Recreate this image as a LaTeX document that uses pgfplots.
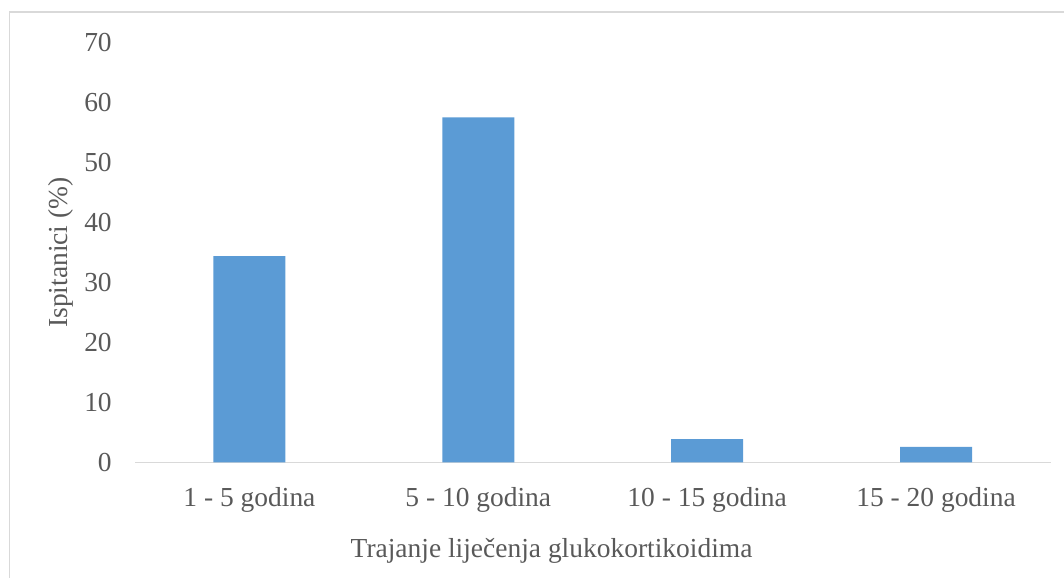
\documentclass[border=0pt]{standalone}
\usepackage{fontspec}
\setmainfont{Liberation Serif}
\usepackage{pgfplots}
\pgfplotsset{compat=1.18}
\definecolor{barblue}{HTML}{5B9BD5}
\definecolor{txtgray}{HTML}{595959}
\definecolor{linegray}{HTML}{D9D9D9}
\begin{document}
\begin{tikzpicture}
\useasboundingbox (0,0) rectangle (1064*0.75pt,578*0.75pt);
\clip (0,0) rectangle (1064*0.75pt,578*0.75pt);
\draw[linegray, line width=1.1pt] (9.5*0.75pt,-20pt) -- (9.5*0.75pt,566*0.75pt) -- (1100*0.75pt,566*0.75pt);
\begin{axis}[
  at={(135*0.75pt,115.5*0.75pt)}, anchor=south west,
  scale only axis,
  width=915.5*0.75pt, height=420*0.75pt,
  xmin=-0.5, xmax=3.5, ymin=0, ymax=70,
  ytick={0,10,...,70},
  xtick={0,1,2,3},
  xticklabels={1 - 5 godina, 5 - 10 godina, 10 - 15 godina, 15 - 20 godina},
  axis x line*=bottom, axis y line*=left,
  y axis line style={draw=none},
  x axis line style={draw=linegray, line width=1.1pt, -},
  major tick length=0pt,
  /pgf/number format/assume math mode=true,
  tick label style={font=\fontsize{20.6}{24}\selectfont, text=txtgray, inner sep=0pt},
  yticklabel style={anchor=east, xshift=-17.25pt},
  xticklabel style={anchor=north, yshift=-18.5pt},
  xlabel={Trajanje liječenja glukokortikoidima},
  ylabel={Ispitanici (\%)},
  label style={font=\fontsize{20.6}{24}\selectfont, text=txtgray, inner sep=0pt},
  xlabel style={at={(axis description cs:0.455,0)}, anchor=base, yshift=-70.9pt},
  ylabel style={at={(axis description cs:-0.0732,0.5)}, anchor=base},
  clip=false,
]
\addplot[ybar, bar width=54pt, fill=barblue, draw=none] coordinates {(0,34.4) (1,57.5) (2,3.9) (3,2.6)};
\end{axis}
\end{tikzpicture}
\end{document}
